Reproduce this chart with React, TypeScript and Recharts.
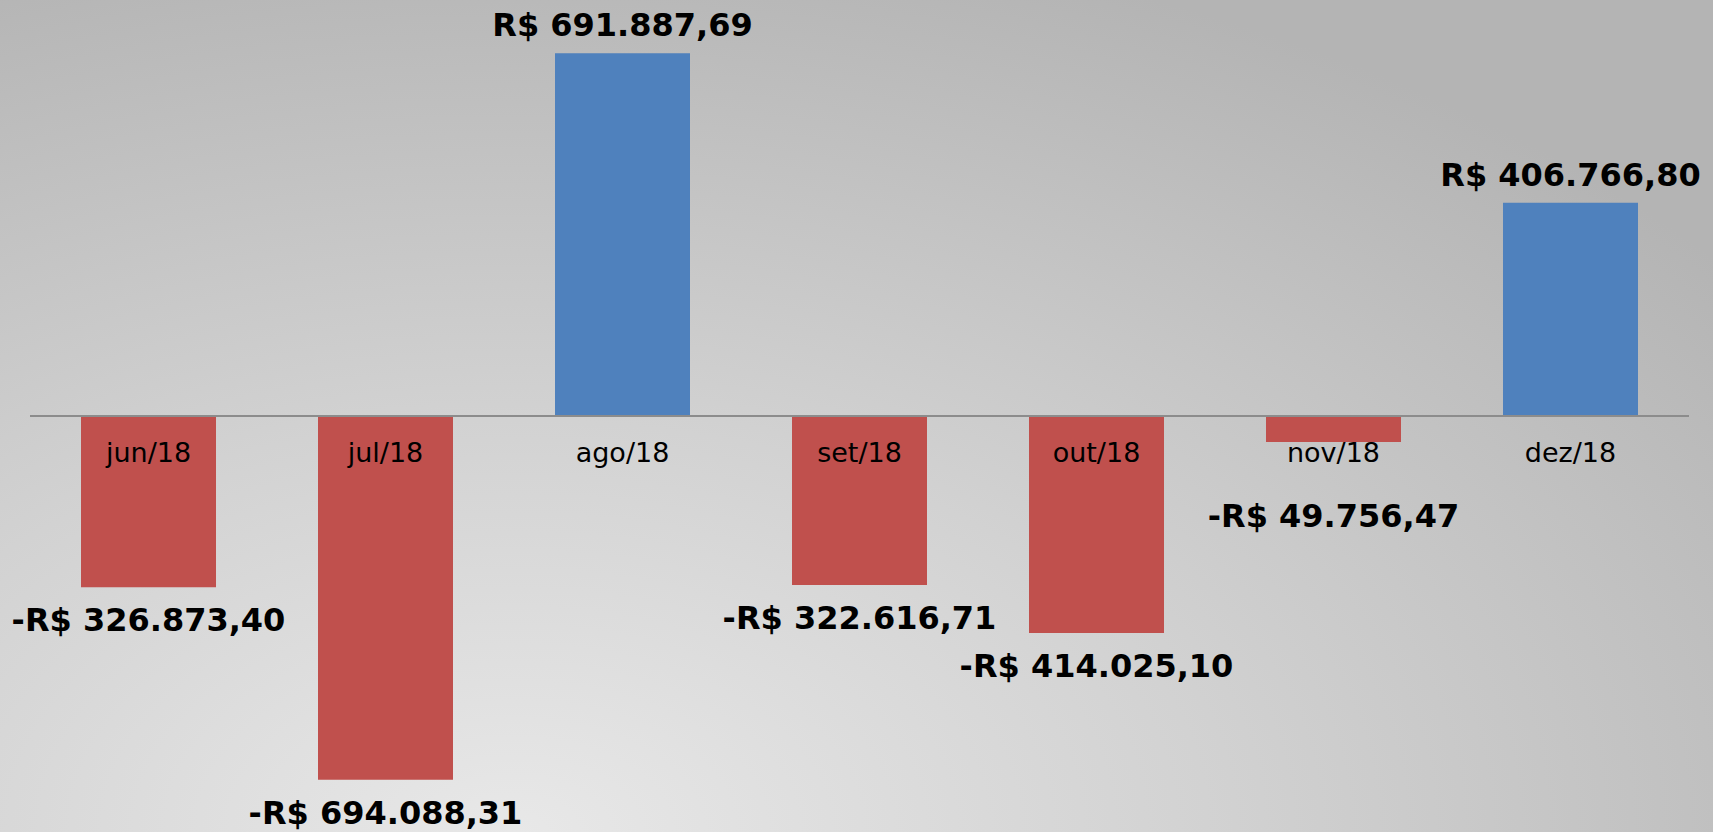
import React from "react";
import { Bar, BarChart, Cell, LabelList, ReferenceLine, XAxis, YAxis } from "recharts";

const months = ["jun/18", "jul/18", "ago/18", "set/18", "out/18", "nov/18", "dez/18"];
const values = [-326873.4, -694088.31, 691887.69, -322616.71, -414025.1, -49756.47, 406766.8];

const data = months.map((month, i) => ({ month, value: values[i] }));

const fmt = (v: number) => {
  const abs = Math.abs(v);
  const [int, dec] = abs.toFixed(2).split(".");
  const withDots = int.replace(/\B(?=(\d{3})+(?!\d))/g, ".");
  return (v < 0 ? "-" : "") + "R$ " + withDots + "," + dec;
};

const ValueLabel = (props: any) => {
  const { x, y, width, height, value } = props;
  const top = Math.min(y, y + height);
  const bottom = Math.max(y, y + height);
  const cx = x + width / 2;
  let ty;
  if (value >= 0) {
    ty = top - 17;
  } else {
    // short bars: push the label under the month text
    ty = Math.max(bottom + 44, top + 111);
  }
  return (
    <text x={cx} y={ty} textAnchor="middle" fontFamily="DejaVu Sans" fontWeight="bold" fontSize={32} fill="#000">
      {fmt(value)}
    </text>
  );
};

const MonthLabel = (props: any) => {
  const { x, y, width, height, index, value } = props;
  const v = values[index];
  const zero = v >= 0 ? Math.max(y, y + height) : Math.min(y, y + height);
  return (
    <text x={x + width / 2} y={zero + 46} textAnchor="middle" fontFamily="DejaVu Sans" fontSize={27} fill="#000">
      {value}
    </text>
  );
};

export default function App() {
  return (
    <div
      style={{
        position: "absolute",
        left: 0,
        top: 0,
        width: 1713,
        height: 832,
        background: "radial-gradient(ellipse 90% 110% at 30% 100%, #e8e8e8 0%, #d2d2d2 45%, #b4b4b4 100%)",
      }}
    >
      <BarChart width={1713} height={832} data={data} margin={{ top: 0, right: 24, bottom: 0, left: 30 }}>
        <XAxis dataKey="month" hide />
        <YAxis hide domain={[-793600, 793600]} />
        <ReferenceLine y={0} stroke="#8c8c8c" strokeWidth={2} />
        <Bar dataKey="value" barSize={135} isAnimationActive={false}>
          {data.map((d, i) => (
            <Cell key={i} fill={d.value >= 0 ? "#4F81BD" : "#C0504D"} />
          ))}
          <LabelList dataKey="value" content={ValueLabel} />
          <LabelList dataKey="month" content={MonthLabel} />
        </Bar>
      </BarChart>
    </div>
  );
}
